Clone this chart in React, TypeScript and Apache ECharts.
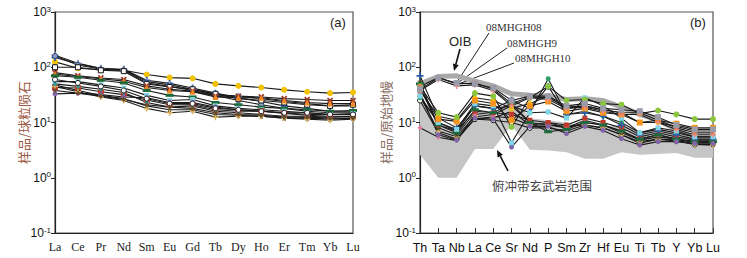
import React, { useEffect, useRef } from "react";
import * as echarts from "echarts";

// ---------- categories ----------
const reeCats = ["La", "Ce", "Pr", "Nd", "Sm", "Eu", "Gd", "Tb", "Dy", "Ho", "Er", "Tm", "Yb", "Lu"];
const spiderCats = ["Th", "Ta", "Nb", "La", "Ce", "Sr", "Nd", "P", "Sm", "Zr", "Hf", "Eu", "Ti", "Tb", "Y", "Yb", "Lu"];

// ---------- panel (a): chondrite-normalised REE ----------
const reeYellow = [125, 96, 90, 88, 74, 65, 63, 50, 46, 43, 39, 36, 34, 35];
const reeBluePlus = [150, 115, 95, 92, 58, 51, 42, 34, 28, 24, 20, 18, 16, 16];
const reeGreyPlus = [165, 118, 96, 90, 55, 48, 40, 32, 30, 27, 24, 22, 20, 20];
const reeNavyCircle = [160, 110, 92, 88, 52, 45, 38, 31, 25, 21, 18, 16, 15, 15];
const reeWhiteSquare = [100, 100, 88, 85, 50, 44, 40, 33, 27, 25, 23, 21, 20, 21];
const reeRedX = [80, 70, 64, 60, 46, 40, 37, 30, 30, 29, 27, 26, 25, 25];
const reeOrangeTri = [75, 68, 62, 56, 43, 38, 36, 29, 28, 28, 25, 23, 22, 22];
const reeGreenBar = [70, 66, 58, 52, 38, 31, 29, 23, 21, 19, 18, 17, 16, 16.5];
const reeCyanSquare = [55, 55, 48, 42, 31, 25, 26, 20, 18, 17, 16, 15, 14, 14.5];
const reeRedSquare = [43, 42, 36, 32, 25.5, 21, 21, 17, 16, 16, 14.6, 13.5, 13, 13];
const reePurple = [33, 34, 32, 29, 28, 23, 23, 19, 17, 16, 15, 14, 14, 14];
const reeOlive = [48, 38, 31, 27, 20, 17, 17, 14, 13.5, 13, 12, 12, 11.5, 12];
const reeTanPlus = [45, 36, 29, 25, 18, 15, 16, 12.5, 13, 13, 12, 11.5, 11, 11.5];
const reeTeal = [50, 45, 40, 35, 23, 19, 20, 16, 15, 14, 13, 13, 12.5, 13];
const reeBlackCircle = [60, 52, 45, 38, 27, 22, 22, 18, 17, 16, 15, 15, 14, 14];
const reeBrown = [38, 34, 30, 26, 21, 19, 18, 15, 14, 13.5, 12.5, 12.5, 12, 12];

// ---------- panel (b): primitive-mantle-normalised spider ----------
const oibValues = [50, 68, 70, 56, 46, 33, 31, 30, 26, 27, 25, 19, 14, 11, 7.5, 5.2, 4.6];
const arcRangeLower = [2.6, 1.0, 1.0, 3.3, 3.3, 9.0, 3.2, 3.1, 2.9, 2.2, 2.2, 2.9, 2.6, 2.7, 2.8, 2.3, 2.3];
const arcRangeUpper = [28, 8.5, 8, 11, 11, 32, 12, 11, 10, 8.5, 8.5, 9, 7, 7.5, 6.5, 6, 6];

const sp08MHGH08 = [40, 64, 52, 50, 42, 25, 30, 30, 20, 22, 18, 17, 16, 12.5, 9, 7.5, 7.5];
const sp08MHGH9 = [45, 65, 50, 52, 40, 22, 29, 28, 19, 20, 17, 15, 15, 11, 8, 6.5, 6.5];
const sp08MHGH10 = [38, 60, 46, 48, 38, 20, 28, 26, 18, 19, 16, 14, 14, 10, 7.5, 6, 6];
const spLime = [45, 15, 12.5, 34, 30, 8.3, 28, 45, 25, 26, 22, 21, 14.5, 16.5, 14, 11.5, 11.5];
const spOrange = [40, 11.5, 10.5, 25, 22, 11, 20, 24, 16, 18, 15, 14, 10, 11, 9.5, 8, 8];
const spCyan = [30, 10, 7.5, 22, 20, 4.3, 15, 15.5, 12, 28, 20, 12, 6.5, 8, 7, 5.5, 5.5];
const spPurple = [35, 6, 4.8, 12, 11.5, 3.6, 8.5, 8.5, 6.3, 8.5, 7.2, 5.1, 3.9, 4.5, 4.5, 4.2, 4.2];
const spGreenBar = [50, 9, 6.5, 17, 15, 22, 10, 6.8, 7.5, 10, 9, 7, 5, 6, 5, 4.5, 4.5];
const spBluePlus = [70, 12, 8, 20, 18, 25, 18, 45, 14, 15, 13, 9, 6, 7, 6, 5, 5];
const spRedSquare = [42, 9, 7, 16, 15, 14, 11, 10, 9, 12, 10, 8, 5.5, 6.5, 5.5, 4.8, 4.8];
const spPink = [8, 5.4, 4.7, 14, 13, 12, 9, 10, 8, 11, 9, 7, 5, 6, 5, 4.5, 4.4];
const spTeal = [28, 10, 7, 20, 18, 20, 15, 62, 14, 16, 13, 10, 6.5, 7.5, 6.5, 5.5, 5.5];
const spOlive = [55, 8, 6, 15, 14, 20, 10, 9, 8, 10, 9, 6.5, 4.8, 5.5, 5, 4.3, 4.3];
const spTanPlus = [30, 7, 5.5, 13, 12, 16, 9, 9, 8.5, 9, 8, 6, 4.5, 5, 4.8, 4, 3.9];
const spYellow = [38, 13, 11, 28, 25, 18, 22, 30, 18, 20, 17, 15, 10, 10, 8.5, 7, 7];
const spBlackCircle = [25, 6.5, 5, 11.5, 11, 10, 8, 8, 7, 9, 8, 6, 4.2, 5, 4.6, 4, 4];

// ---------- marker shapes ----------
const PLUS = "path://M3,0H5V3H8V5H5V8H3V5H0V3H3Z";
const STAR = "path://M5,0L6.2,3.6L10,3.6L7,5.9L8.1,9.5L5,7.3L1.9,9.5L3,5.9L0,3.6L3.8,3.6Z";

type M = { symbol: string; color: string; border?: string; size?: any; rotate?: number };

const reeSeries: [number[], M][] = [
  [reeYellow, { symbol: "circle", color: "#f2c200", size: 6 }],
  [reeBluePlus, { symbol: PLUS, color: "#2b5ca6", size: 7 }],
  [reeGreyPlus, { symbol: PLUS, color: "#8a96b2", size: 7 }],
  [reeNavyCircle, { symbol: "circle", color: "#8fa0c8", border: "#2b3b6b" }],
  [reeWhiteSquare, { symbol: "rect", color: "#ffffff", border: "#111" }],
  [reeRedX, { symbol: PLUS, color: "#9b3a2a", size: 7, rotate: 45 }],
  [reeOrangeTri, { symbol: "triangle", color: "#f08a24", size: 6 }],
  [reeGreenBar, { symbol: "rect", color: "#1d6b3c", size: [8, 3] }],
  [reeCyanSquare, { symbol: "rect", color: "#86d0e0" }],
  [reeRedSquare, { symbol: "rect", color: "#c0392b", size: 6 }],
  [reePurple, { symbol: "circle", color: "#8064a8" }],
  [reeOlive, { symbol: STAR, color: "#4a4a20", size: 6 }],
  [reeTanPlus, { symbol: PLUS, color: "#d9b060", size: 6 }],
  [reeTeal, { symbol: "diamond", color: "#3a9a98" }],
  [reeBlackCircle, { symbol: "circle", color: "#ffffff", border: "#111" }],
  [reeBrown, { symbol: "diamond", color: "#6b4a2a" }],
];

const spiderSeries: [number[], M][] = [
  [spBlackCircle, { symbol: "circle", color: "#ffffff", border: "#111" }],
  [spTanPlus, { symbol: PLUS, color: "#d9b060", size: 6 }],
  [spOlive, { symbol: STAR, color: "#4a4a20", size: 6 }],
  [spTeal, { symbol: "circle", color: "#2f9e6a" }],
  [spPink, { symbol: "diamond", color: "#e07aa0" }],
  [spRedSquare, { symbol: "rect", color: "#c0392b" }],
  [spBluePlus, { symbol: PLUS, color: "#2b5ca6", size: 7 }],
  [spGreenBar, { symbol: "rect", color: "#1d6b3c", size: [8, 3] }],
  [spPurple, { symbol: "circle", color: "#8064a8" }],
  [spCyan, { symbol: "rect", color: "#7fd4e8" }],
  [spYellow, { symbol: "circle", color: "#f2c200" }],
  [spOrange, { symbol: "rect", color: "#f7941d", size: 6 }],
  [spLime, { symbol: "circle", color: "#8cc63f", size: 6 }],
  [sp08MHGH10, { symbol: PLUS, color: "#f09090", size: 6 }],
  [sp08MHGH9, { symbol: PLUS, color: "#e8775a", size: 6, rotate: 45 }],
  [sp08MHGH08, { symbol: "rect", color: "#9a9aa8", size: 6 }],
];

const supFormatter = (v: number) => {
  const e = Math.round(Math.log10(v));
  return `{b|10}{s|${e}}`;
};

const yAxisBase = (gridIndex: number, name: string, nameColor: string, nameGap: number) => ({
  type: "log",
  logBase: 10,
  gridIndex,
  min: 0.1,
  max: 1000,
  name,
  nameLocation: "middle",
  nameRotate: 90,
  nameGap,
  nameMoveOverlap: false,
  nameTextStyle: { color: nameColor, fontSize: 13, fontFamily: "Noto Sans CJK SC" },
  axisLine: { show: true, lineStyle: { color: "#222", width: 1.2 } },
  axisTick: { show: true, length: 4, lineStyle: { color: "#222" } },
  splitLine: { show: false },
  minorTick: { show: false },
  axisLabel: {
    margin: 4,
    formatter: supFormatter,
    rich: {
      b: { fontSize: 12, fontFamily: "Liberation Sans", color: "#111" },
      s: { fontSize: 8, fontFamily: "Liberation Sans", color: "#111", verticalAlign: "top", lineHeight: 14 },
    },
  },
});

function arrow(x1: number, y1: number, x2: number, y2: number) {
  const ang = Math.atan2(y2 - y1, x2 - x1);
  const L = 7, W = 3;
  const bx = x2 - L * Math.cos(ang), by = y2 - L * Math.sin(ang);
  const px = -Math.sin(ang) * W, py = Math.cos(ang) * W;
  return [
    { type: "line", shape: { x1, y1, x2: bx, y2: by }, style: { stroke: "#111", lineWidth: 1.6 } },
    {
      type: "polygon",
      shape: { points: [[x2, y2], [bx + px, by + py], [bx - px, by - py]] },
      style: { fill: "#111" },
    },
  ];
}

function buildOption() {
  const series: any[] = [];
  reeSeries.forEach(([data, m], i) => {
    series.push({
      type: "line",
      name: "a" + i,
      xAxisIndex: 0,
      yAxisIndex: 0,
      data,
      symbol: m.symbol,
      symbolSize: m.size ?? 5,
      symbolRotate: m.rotate ?? 0,
      lineStyle: { color: "#1a1a1a", width: 1.1 },
      itemStyle: { color: m.color, borderColor: m.border ?? m.color, borderWidth: m.border ? 1 : 0 },
      z: 3,
    });
  });
  series.push({
    type: "custom",
    name: "arcRange",
    xAxisIndex: 1,
    yAxisIndex: 1,
    data: [[0, 1]],
    z: 1,
    silent: true,
    renderItem: (_p: any, api: any) => {
      const up = arcRangeUpper.map((v, i) => api.coord([i, v]));
      const lo = arcRangeLower.map((v, i) => api.coord([i, v])).reverse();
      return { type: "polygon", shape: { points: up.concat(lo) }, style: { fill: "#c6c6c6" } };
    },
  });
  series.push({
    type: "line",
    name: "OIB",
    xAxisIndex: 1,
    yAxisIndex: 1,
    data: oibValues,
    symbol: "none",
    lineStyle: { color: "#a9a9a9", width: 5 },
    z: 2,
  });
  spiderSeries.forEach(([data, m], i) => {
    series.push({
      type: "line",
      name: "b" + i,
      xAxisIndex: 1,
      yAxisIndex: 1,
      data,
      symbol: m.symbol,
      symbolSize: m.size ?? 5,
      symbolRotate: m.rotate ?? 0,
      lineStyle: { color: "#1a1a1a", width: 1.1 },
      itemStyle: { color: m.color, borderColor: m.border ?? m.color, borderWidth: m.border ? 1 : 0 },
      z: 3,
    });
  });

  const labelText = (text: string, x: number, y: number) => ({
    type: "text",
    x,
    y,
    z: 10,
    style: { text, fill: "#333", font: "11px 'Liberation Serif'", textVerticalAlign: "middle" },
  });

  return {
    animation: false,
    backgroundColor: "#ffffff",
    grid: [
      { left: 55, top: 12, width: 298, height: 221, show: true, borderColor: "#555", borderWidth: 1.2, backgroundColor: "transparent" },
      { left: 420, top: 12, width: 293, height: 221, show: true, borderColor: "#555", borderWidth: 1.2, backgroundColor: "transparent" },
    ],
    xAxis: [
      {
        type: "category",
        gridIndex: 0,
        data: reeCats,
        boundaryGap: false,
        axisLine: { lineStyle: { color: "#222", width: 1.2 } },
        axisTick: { show: false },
        axisLabel: { interval: 0, margin: 8, fontFamily: "Liberation Serif", fontSize: 12, color: "#222" },
      },
      {
        type: "category",
        gridIndex: 1,
        data: spiderCats,
        boundaryGap: false,
        axisLine: { lineStyle: { color: "#222", width: 1.2 } },
        axisTick: { show: true, inside: true, length: 5, interval: 0, lineStyle: { color: "#333" } },
        axisLabel: { interval: 0, margin: 8, fontFamily: "Liberation Sans", fontSize: 12.5, color: "#111" },
      },
    ],
    yAxis: [
      yAxisBase(0, "样品/球粒陨石", "#9c5b45", 25),
      yAxisBase(1, "样品/原始地幔", "#8a6f66", 28),
    ],
    series,
    graphic: [
      { type: "text", x: 330, y: 16, style: { text: "(a)", fill: "#222", font: "13px 'Liberation Sans'" } },
      { type: "text", x: 690, y: 16, style: { text: "(b)", fill: "#222", font: "13px 'Liberation Sans'" } },
      { type: "text", x: 449, y: 35, style: { text: "OIB", fill: "#222", font: "13px 'Liberation Sans'" } },
      ...arrow(460, 49, 454, 71),
      labelText("08MHGH08", 486, 27),
      labelText("08MHGH9", 507, 43),
      labelText("08MHGH10", 515, 58),
      { type: "line", shape: { x1: 489, y1: 33, x2: 457, y2: 82 }, style: { stroke: "#222", lineWidth: 1 } },
      { type: "line", shape: { x1: 507, y1: 48, x2: 459, y2: 82 }, style: { stroke: "#222", lineWidth: 1 } },
      { type: "line", shape: { x1: 514, y1: 63, x2: 461, y2: 83 }, style: { stroke: "#222", lineWidth: 1 } },
      ...arrow(508, 171, 497, 150),
      {
        type: "text",
        x: 492,
        y: 185,
        style: { text: "俯冲带玄武岩范围", fill: "#444", font: "12.5px 'Noto Sans CJK SC'", textVerticalAlign: "middle" },
      },
    ],
  };
}

export default function App() {
  const ref = useRef<HTMLDivElement>(null);
  useEffect(() => {
    if (!ref.current) return;
    const chart = echarts.init(ref.current, null, { renderer: "svg" });
    chart.setOption(buildOption() as any);
    return () => chart.dispose();
  }, []);
  return (
    <div
      ref={ref}
      style={{ position: "fixed", left: 0, top: 0, width: 747, height: 258, background: "#fff" }}
    />
  );
}
